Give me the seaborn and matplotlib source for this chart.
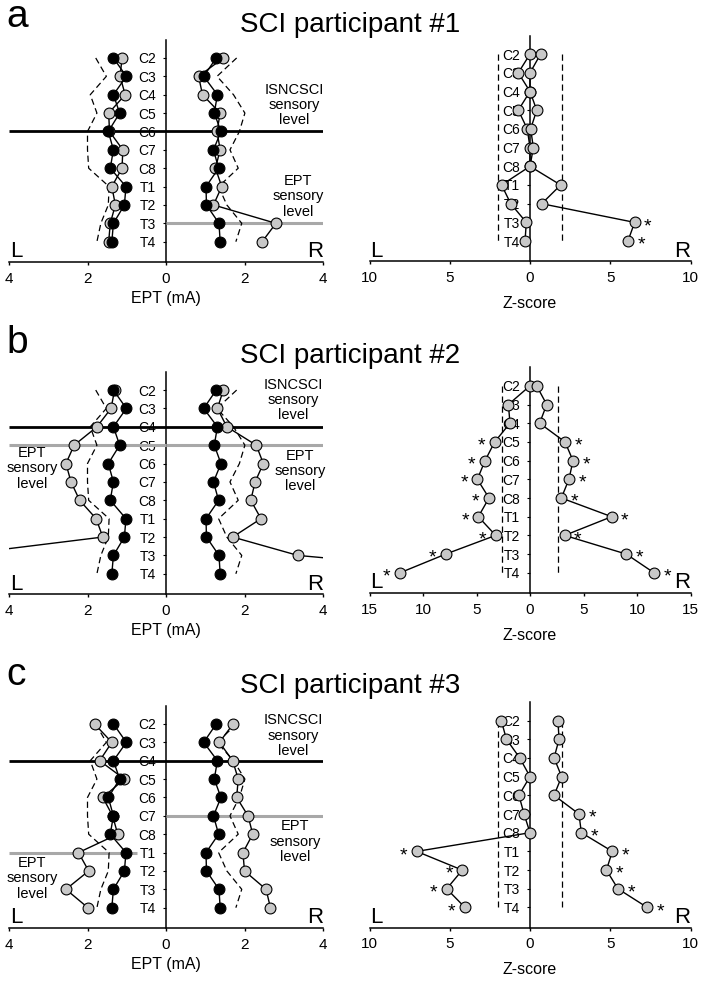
import numpy as np
import matplotlib
matplotlib.use('Agg')
import matplotlib.pyplot as plt
import seaborn as sns
from matplotlib.ticker import FuncFormatter

# dermatome levels, top to bottom
levels = ['C2', 'C3', 'C4', 'C5', 'C6', 'C7', 'C8', 'T1', 'T2', 'T3', 'T4']

# control group: mean EPT (black dots) and upper limit (dashed), mA
ctrl_mean_left = [1.34, 1.01, 1.34, 1.18, 1.47, 1.34, 1.42, 1.02, 1.06, 1.34, 1.38]
ctrl_mean_right = [1.28, 0.96, 1.31, 1.23, 1.40, 1.21, 1.34, 1.02, 1.03, 1.35, 1.38]
ctrl_limit_left = [1.79, 1.52, 1.93, 1.76, 2.00, 2.00, 1.97, 1.45, 1.47, 1.66, 1.76]
ctrl_limit_right = [1.80, 1.30, 1.72, 2.01, 1.87, 1.63, 1.84, 1.34, 1.55, 1.93, 1.78]

# participants EPT (mA)
p1_left = [1.12, 1.17, 1.04, 1.46, 1.44, 1.10, 1.12, 1.38, 1.29, 1.42, 1.46]
p1_right = [1.46, 0.83, 0.93, 1.38, 1.30, 1.38, 1.26, 1.42, 1.21, 2.80, 2.45]
p2_left = [1.31, 1.40, 1.76, 2.34, 2.55, 2.42, 2.20, 1.78, 1.61, 5.40, 6.60]
p2_right = [1.46, 1.31, 1.55, 2.30, 2.48, 2.27, 2.16, 2.42, 1.70, 3.36, 8.50]
p3_left = [1.82, 1.38, 1.69, 1.06, 1.61, 1.36, 1.23, 2.23, 1.97, 2.55, 1.99]
p3_right = [1.71, 1.36, 1.70, 1.84, 1.80, 2.09, 2.21, 1.96, 2.00, 2.55, 2.66]

# Z-scores
z1_left = [0.0, 0.73, 0.0, 0.73, 0.17, 0.0, 0.0, 1.77, 1.20, 0.23, 0.31]
z1_right = [0.66, 0.0, 0.0, 0.42, 0.04, 0.21, 0.0, 1.91, 0.73, 6.52, 6.10]
z2_left = [0.0, 2.02, 1.87, 3.30, 4.20, 4.92, 3.83, 4.83, 3.21, 7.88, 12.15]
z2_right = [0.62, 1.56, 0.90, 3.27, 4.02, 3.64, 2.93, 7.63, 3.24, 9.00, 11.59]
z3_left = [1.79, 1.47, 0.64, 0.0, 0.69, 0.37, 0.0, 7.06, 4.22, 5.19, 4.05]
z3_right = [1.74, 1.81, 1.50, 1.97, 1.50, 3.05, 3.20, 5.13, 4.76, 5.48, 7.31]
z_limits = [2.0, 2.6, 2.0]
z_ranges = [10, 15, 10]

# significant levels (asterisks)
sig1_left, sig1_right = [], ['T3', 'T4']
sig2_left = ['C5', 'C6', 'C7', 'C8', 'T1', 'T2', 'T3', 'T4']
sig2_right = ['C5', 'C6', 'C7', 'C8', 'T1', 'T2', 'T3', 'T4']
sig3_left = ['T1', 'T2', 'T3', 'T4']
sig3_right = ['C7', 'C8', 'T1', 'T2', 'T3', 'T4']

# sensory levels
isncsci_levels = ['C6', 'C4', 'C4']
ept_levels_left = [None, 'C5', 'T1']
ept_levels_right = ['T3', 'C5', 'C7']

titles = ['SCI participant #1', 'SCI participant #2', 'SCI participant #3']
letters = ['a', 'b', 'c']

sns.set_style('ticks', {'axes.edgecolor': 'black', 'text.color': 'black',
                        'xtick.color': 'black', 'ytick.color': 'black',
                        'axes.labelcolor': 'black'})
plt.rcParams['font.family'] = ['Liberation Sans', 'DejaVu Sans']

W, H = 706, 983
fig = plt.figure(figsize=(W / 100, H / 100), dpi=100)


def box(x0, x1, top, height):
    return [x0 / W, 1 - (top + height) / H, (x1 - x0) / W, height / H]


ept_tops = [39.6, 371.7, 705.6]
z_tops = [35.6, 367.3, 702.0]
title_base = [32, 363, 693]
letter_base = [27, 353, 685]
GRAY = '#c8c8c8'
SENS_GRAY = '#a8a8a8'


def style_axis(ax, lim, step, ylim, label, labelpad):
    ax.set_xlim(-lim, lim)
    ax.set_ylim(*ylim)
    ax.set_xticks(np.arange(-lim, lim + 0.01, step))
    ax.xaxis.set_major_formatter(FuncFormatter(lambda v, p: f'{abs(v):g}'))
    ax.set_yticks(range(len(levels)))
    ax.set_yticklabels(levels, fontsize=10.5)
    for s in ['top', 'right']:
        ax.spines[s].set_visible(False)
    ax.spines['left'].set_position(('data', 0))
    ax.spines['left'].set_linewidth(1.1)
    ax.spines['bottom'].set_linewidth(1.1)
    ax.tick_params(axis='x', direction='out', length=2.5, width=1, labelsize=11, pad=4.5)
    ax.tick_params(axis='y', direction='out', length=2.5, width=0.8, pad=4.5)
    ax.set_ylabel('')
    ax.set_xlabel(label, fontsize=11.5, labelpad=labelpad)
    ax.annotate('L', xy=(0, 0), xycoords='axes fraction', xytext=(0.5, 3.2),
                textcoords='offset points', ha='left', va='baseline', fontsize=16)
    ax.annotate('R', xy=(1, 0), xycoords='axes fraction', xytext=(0, 3.2),
                textcoords='offset points', ha='right', va='baseline', fontsize=16)


def profile(ax, x, face, z, dashed=False):
    y = np.arange(len(levels))
    if dashed:
        sns.lineplot(x=x, y=y, sort=False, estimator=None, ax=ax, color='black',
                     linewidth=0.9, linestyle=(0, (5, 3)), zorder=z)
    else:
        sns.lineplot(x=x, y=y, sort=False, estimator=None, ax=ax, color='black',
                     linewidth=1, marker='o', markersize=7.8, markerfacecolor=face,
                     markeredgecolor='black', markeredgewidth=0.8, zorder=z)


pat_left = [p1_left, p2_left, p3_left]
pat_right = [p1_right, p2_right, p3_right]
zs_left = [z1_left, z2_left, z3_left]
zs_right = [z1_right, z2_right, z3_right]
sigs_left = [sig1_left, sig2_left, sig3_left]
sigs_right = [sig1_right, sig2_right, sig3_right]
ept_left_span = [None, (-4, 0), (-4, -0.75)]
isn_text_pos = [(3.26, 2.55), (3.24, 0.55), (3.24, 0.64)]
ept_text_right = [(3.36, 7.54), (3.41, 4.4), (3.29, 6.4)]
ept_text_left = [None, (-3.42, 4.26), (-3.42, 8.4)]

sens_text = 'ISNCSCI\nsensory\nlevel'
ept_text = 'EPT\nsensory\nlevel'

for i in range(3):
    # ---- EPT panel
    ax = fig.add_axes(box(9, 323, ept_tops[i], 222.3))
    neg = lambda v: [-a for a in v]
    profile(ax, neg(ctrl_limit_left), None, 2.7, dashed=True)
    profile(ax, ctrl_limit_right, None, 2.7, dashed=True)
    profile(ax, neg(pat_left[i]), GRAY, 3)
    profile(ax, pat_right[i], GRAY, 3)
    profile(ax, neg(ctrl_mean_left), 'black', 3.5)
    profile(ax, ctrl_mean_right, 'black', 3.5)

    ax.hlines(levels.index(isncsci_levels[i]), -4, 4, color='black', lw=2, zorder=2.6)
    ax.hlines(levels.index(ept_levels_right[i]), 0, 4, color=SENS_GRAY, lw=2.2, zorder=2.6)
    if ept_levels_left[i] is not None:
        a0, a1 = ept_left_span[i]
        ax.hlines(levels.index(ept_levels_left[i]), a0, a1, color=SENS_GRAY, lw=2.2, zorder=2.6)

    ax.text(*isn_text_pos[i], sens_text, ha='center', va='center', fontsize=10.5,
            linespacing=1.12)
    ax.text(*ept_text_right[i], ept_text, ha='center', va='center', fontsize=10.5,
            linespacing=1.12)
    if ept_text_left[i] is not None:
        ax.text(*ept_text_left[i], ept_text, ha='center', va='center', fontsize=10.5,
                linespacing=1.12)
    style_axis(ax, 4, 2, (11.1, -1.0), 'EPT (mA)', 4)

    # ---- Z-score panel
    zx = fig.add_axes(box(369.5, 690.5, z_tops[i], 225.5))
    lim = z_limits[i]
    zx.vlines([-lim, lim], 0, len(levels) - 1, colors='black', lw=0.9,
              linestyles=(0, (5, 3)), zorder=2.7)
    zl = neg(zs_left[i])
    zr = zs_right[i]
    profile(zx, zl, GRAY, 3)
    profile(zx, zr, GRAY, 3)
    for lv in sigs_left[i]:
        k = levels.index(lv)
        zx.annotate('*', xy=(zl[k], k), xytext=(-9.5, -3), textcoords='offset points',
                    ha='center', va='center', fontsize=14)
    for lv in sigs_right[i]:
        k = levels.index(lv)
        zx.annotate('*', xy=(zr[k], k), xytext=(9.5, -3), textcoords='offset points',
                    ha='center', va='center', fontsize=14)
    style_axis(zx, z_ranges[i], 5, (11.07, -0.99), 'Z-score', 8)

    fig.text(350 / W, 1 - title_base[i] / H, titles[i], ha='center', va='baseline',
             fontsize=20)
    fig.text(6 / W, 1 - letter_base[i] / H, letters[i], ha='left', va='baseline',
             fontsize=28)

fig.savefig('out.png', dpi=100)
